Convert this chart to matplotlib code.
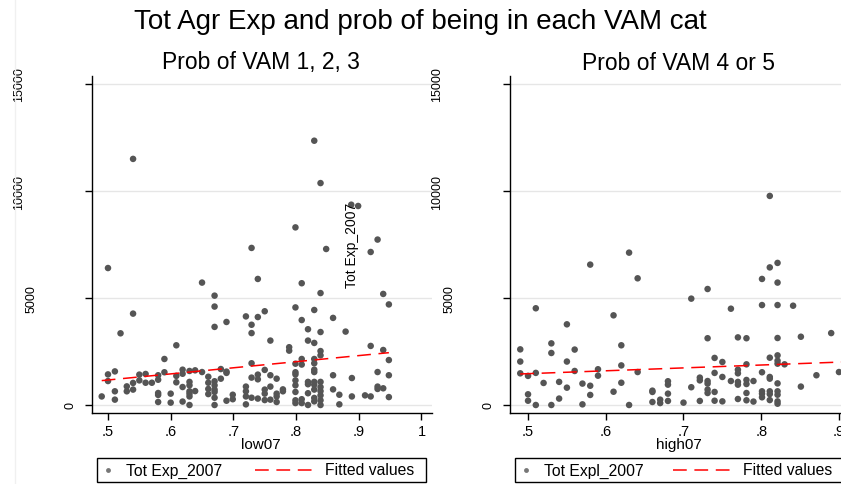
import matplotlib.pyplot as plt
from matplotlib.lines import Line2D
from matplotlib.patches import Rectangle

plt.rcParams["font.family"] = ["Liberation Sans", "DejaVu Sans"]

# --- data ---
low07 = [
    0.500, 0.540, 0.829, 0.839, 0.888, 0.899, 0.799, 0.729, 0.848, 0.930, 0.919, 0.650,
    0.739, 0.809, 0.670, 0.839, 0.939, 0.948, 0.670, 0.540, 0.520, 0.720, 0.739, 0.750,
    0.729, 0.729, 0.799, 0.829, 0.809, 0.859, 0.689, 0.670, 0.819, 0.839, 0.879, 0.759,
    0.819, 0.829, 0.609, 0.789, 0.789, 0.839, 0.839, 0.919, 0.939, 0.948, 0.590, 0.809,
    0.829, 0.729, 0.829, 0.809, 0.799,
    0.500, 0.500, 0.511, 0.511, 0.511, 0.490, 0.530, 0.530, 0.540, 0.540, 0.550, 0.560,
    0.550, 0.560, 0.570, 0.580, 0.580, 0.580, 0.580, 0.580, 0.590, 0.600, 0.600, 0.609,
    0.609, 0.619, 0.619, 0.619, 0.619, 0.630, 0.630, 0.630, 0.630, 0.630, 0.630, 0.630,
    0.639, 0.639, 0.650, 0.660, 0.660, 0.660, 0.660, 0.670, 0.670, 0.670, 0.670, 0.670,
    0.670, 0.680, 0.680, 0.689, 0.689, 0.689, 0.699, 0.699, 0.720, 0.720, 0.720, 0.720,
    0.729, 0.729, 0.739, 0.739, 0.739, 0.750, 0.750, 0.750, 0.750, 0.759, 0.759, 0.759,
    0.769, 0.769, 0.769, 0.769, 0.779, 0.779, 0.799, 0.799, 0.799, 0.799, 0.799, 0.799,
    0.799, 0.809, 0.809, 0.819, 0.819, 0.819, 0.819, 0.829, 0.829, 0.829, 0.829, 0.829,
    0.829, 0.829, 0.839, 0.839, 0.839, 0.839, 0.839, 0.839, 0.859, 0.859, 0.869, 0.869,
    0.889, 0.889, 0.910, 0.919, 0.930, 0.930, 0.930, 0.939, 0.948, 0.948,
]
tot_exp_low = [
    6400, 11500, 12350, 10370, 9360, 9300, 8300, 7340, 7290, 7730, 7150, 5720,
    5890, 5690, 5110, 5230, 5190, 4700, 4600, 4270, 3350, 4140, 4110, 4380,
    3750, 3360, 4560, 4440, 3970, 4070, 3880, 3650, 3540, 3410, 3430, 3010,
    3010, 2900, 2790, 2700, 2540, 2520, 2320, 2760, 2570, 2100, 2150, 2150,
    2150, 1950, 1950, 1890, 1930,
    1430, 1120, 1570, 640, 250, 400, 870, 640, 1030, 720, 1420, 1450,
    1150, 1040, 1040, 1390, 1180, 560, 470, 140, 1530, 530, 110, 1360,
    1060, 1650, 1460, 840, 160, 1590, 1080, 920, 640, 530, 400, 0,
    1620, 650, 1540, 1320, 1040, 750, 510, 1110, 920, 720, 610, 340,
    0, 1680, 1230, 1560, 1500, 200, 480, 270, 860, 640, 400, 30,
    1280, 340, 1420, 1200, 300, 1640, 720, 530, 230, 1390, 860, 250,
    1230, 530, 400, 140, 730, 640, 1530, 1430, 1150, 920, 610, 220,
    90, 270, 90, 1080, 970, 550, 0, 1650, 1540, 1080, 950, 720,
    330, 170, 1080, 840, 650, 450, 220, 0, 1390, 730, 480, 30,
    1260, 400, 450, 400, 1540, 860, 750, 780, 1390, 370,
]

high07 = [
    0.811, 0.630, 0.580, 0.821, 0.811, 0.641, 0.801, 0.821, 0.731, 0.710, 0.510, 0.761,
    0.801, 0.821, 0.841, 0.610, 0.550, 0.890, 0.770, 0.781, 0.731, 0.821, 0.851, 0.490,
    0.530, 0.620, 0.560, 0.530, 0.490, 0.550, 0.620, 0.740, 0.750, 0.811, 0.821, 0.821,
    0.821, 0.830, 0.781, 0.590, 0.560, 0.641, 0.490, 0.510, 0.500, 0.590, 0.770, 0.770,
    0.740, 0.801, 0.811, 0.811, 0.871, 0.900, 0.721, 0.721, 0.750, 0.731, 0.731, 0.761,
    0.770, 0.770, 0.781, 0.781, 0.790, 0.520, 0.540, 0.570, 0.580, 0.620, 0.680, 0.680,
    0.550, 0.710, 0.851, 0.821, 0.731, 0.731, 0.740, 0.801, 0.801, 0.811, 0.811, 0.821,
    0.821, 0.500, 0.580, 0.610, 0.660, 0.660, 0.680, 0.781, 0.801, 0.500, 0.540, 0.770,
    0.781, 0.811, 0.821, 0.821, 0.670, 0.670, 0.680, 0.660, 0.700, 0.721, 0.740, 0.750,
    0.790, 0.510, 0.530, 0.570, 0.630,
]
tot_exp_high = [
    9770, 7120, 6560, 6640, 6430, 5920, 5890, 5720, 5420, 4970, 4520, 4500,
    4670, 4670, 4640, 4190, 3770, 3360, 3160, 3120, 3120, 3130, 3190, 2600,
    2880, 2790, 2590, 2430, 2030, 2030, 1850, 2200, 2010, 2210, 2320, 2070,
    1930, 1900, 1900, 1670, 1590, 1540, 1480, 1500, 1360, 1370, 1650, 1480,
    1500, 1530, 1310, 1230, 1390, 1540, 1280, 1150, 1310, 1120, 1000, 1120,
    1080, 950, 1170, 980, 1120, 1030, 1080, 1000, 900, 1040, 1110, 950,
    810, 830, 860, 1010, 720, 560, 610, 640, 530, 640, 510, 640,
    480, 500, 470, 620, 670, 610, 530, 560, 360, 200, 300, 280,
    220, 230, 170, 60, 250, 90, 190, 140, 110, 190, 200, 170,
    160, 0, 0, 30, 0,
]

# fitted values (end points of the fitted line)
fit_low_x = [0.490, 0.948]
fit_low_y = [1140, 2445]
fit_high_x = [0.490, 0.920]
fit_high_y = [1450, 2030]

yticks = [0, 5000, 10000, 15000]
low_xticks = [0.5, 0.6, 0.7, 0.8, 0.9, 1.0]
low_xlabels = [".5", ".6", ".7", ".8", ".9", "1"]
high_xticks = [0.5, 0.6, 0.7, 0.8, 0.9]
high_xlabels = [".5", ".6", ".7", ".8", ".9"]

W, H = 841, 485
DOT = "#555555"

fig = plt.figure(figsize=(W / 100, H / 100), dpi=100)
fig.patch.set_facecolor("white")

# faint graph-region border on the far left
fig.add_artist(Line2D([15 / W, 15 / W], [0, 1], color="#f0f0f0", lw=1))


def fx(p):
    return p / W


def fy(p):
    return 1 - p / H


def legend_box(x0, x1, label):
    # hand drawn legend: box, dot, text, dashed line, text
    yc = 471
    fig.add_artist(Rectangle((fx(x0), fy(483)), fx(x1 - x0), 24 / H, transform=fig.transFigure,
                             facecolor="white", edgecolor="black", lw=1))
    fig.add_artist(Line2D([fx(x0 + 11)], [fy(yc)], ls="none", marker="o", ms=3.5,
                          color="#777777", mec="none"))
    fig.text(fx(x0 + 29), fy(yc), label, ha="left", va="center", fontsize=11.3)
    fig.add_artist(Line2D([fx(x0 + 158), fx(x0 + 216)], [fy(yc), fy(yc)], color="red",
                          lw=1.1, dashes=(9, 5)))
    fig.text(fx(x0 + 228), fy(yc), "Fitted values", ha="left", va="center", fontsize=11.3)


def panel(x0, x, y, fit_x, fit_y, xlim, xticks, xlabels, title, xlabel):
    ax = fig.add_axes([fx(x0), fy(414), 340 / W, (414 - 77) / H])
    ax.set_xlim(xlim)
    ax.set_ylim(-374, 15374)
    ax.grid(axis="y", color="#e6e6e6", lw=1)
    ax.set_axisbelow(True)
    for s in ["top", "right"]:
        ax.spines[s].set_visible(False)
    for s in ["left", "bottom"]:
        ax.spines[s].set_linewidth(1)
    ax.set_yticks(yticks)
    ax.set_yticklabels([])
    ax.set_xticks(xticks)
    ax.set_xticklabels(xlabels, fontsize=10.5)
    ax.tick_params(axis="both", length=5, width=1, color="black")
    ax.tick_params(axis="x", pad=3)

    # rotated y tick labels, shifted the way the source export did
    for v in yticks:
        s = str(v)
        off = 8 + 13 * len(s)
        ax.text(-off / 340, v, s, transform=ax.get_yaxis_transform(), rotation=90,
                ha="center", va="center", fontsize=9)

    ax.scatter(x, y, s=22, color=DOT, edgecolors="none", zorder=3, clip_on=False)
    ax.plot(fit_x, fit_y, color="red", lw=1.1, dashes=(9, 5), zorder=4)

    fig.text(fx(x0 + 169), fy(63), title, ha="center", va="center", fontsize=16.5)
    fig.text(fx(x0 + 169), fy(445), xlabel, ha="center", va="center", fontsize=11)
    return ax


panel(92, low07, tot_exp_low, fit_low_x, fit_low_y, (0.4745, 1.0168), low_xticks,
      low_xlabels, "Prob of VAM 1, 2, 3", "low07")
panel(510, high07, tot_exp_high, fit_high_x, fit_high_y, (0.4768, 0.9142), high_xticks,
      high_xlabels, "Prob of VAM 4 or 5", "high07")

legend_box(97, 426, "Tot Exp_2007")
legend_box(515, 848, "Tot Expl_2007")

# y title of the right panel sits inside the left panel in the source
fig.text(fx(352), fy(245), "Tot Exp_2007", rotation=90, ha="center", va="center",
         fontsize=10)

fig.text(fx(420), fy(22), "Tot Agr Exp and prob of being in each VAM cat",
         ha="center", va="center", fontsize=20)

fig.savefig("out.png", dpi=100)
